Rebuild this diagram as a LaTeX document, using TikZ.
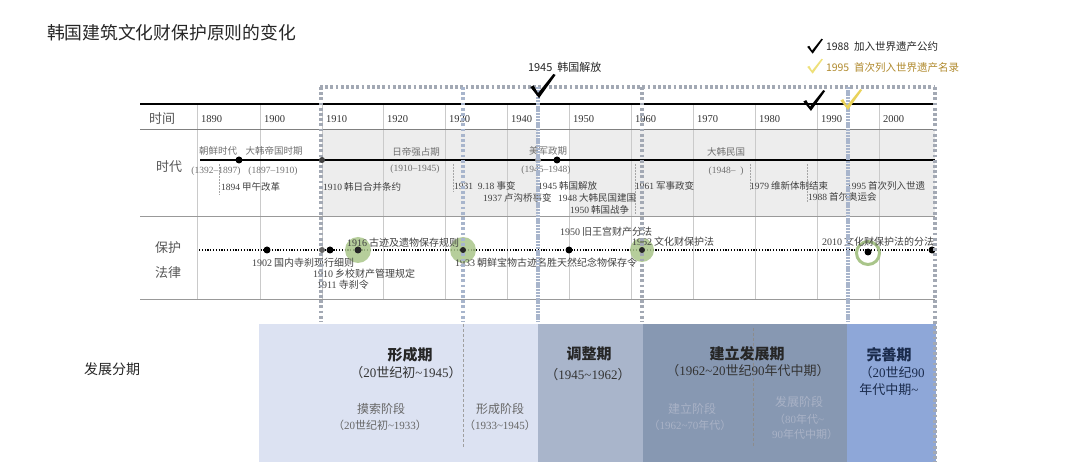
\documentclass[tikz,border=0pt]{standalone}
\usepackage{fontspec}
\setmainfont{Noto Sans CJK SC}
\newfontfamily\sr{Liberation Serif}
\newcommand\ys[1]{{\sr #1}}
\newcommand\tld{\textasciitilde}
\definecolor{cyr}{HTML}{333333}
\definecolor{crow}{HTML}{555555}
\definecolor{cera}{HTML}{707070}
\definecolor{cev}{HTML}{404040}
\definecolor{cgrid}{HTML}{CACACA}
\definecolor{cshade}{HTML}{EDEDED}
\definecolor{cgdot}{HTML}{A3A9B4}
\definecolor{cbdash}{HTML}{A8B5CC}
\definecolor{cgreen}{HTML}{A9C58A}
\definecolor{cyel}{HTML}{E9D25A}
\definecolor{cyellite}{HTML}{EEE07A}
\definecolor{cgold}{HTML}{B08A2E}
\definecolor{pA}{HTML}{DCE2F2}
\definecolor{pB}{HTML}{A9B5CB}
\definecolor{pC}{HTML}{8798B2}
\definecolor{pD}{HTML}{8EA7D8}
\definecolor{tsub}{HTML}{666666}
\definecolor{tsubC}{HTML}{A9B2C6}
\definecolor{tnavy}{HTML}{1A2B4C}
\tikzset{chk/.pic={\fill (-7,-9) -- (-4,-10.5) -- (0,-3.5) -- (14,-21) -- (16,-20) -- (1,1) -- cycle;}}
\begin{document}
\begin{tikzpicture}[x=1pt,y=-1pt,
  every node/.style={inner sep=0pt, outer sep=0pt},
  yr/.style={anchor=west, font=\sr\fontsize{10.5}{12}\selectfont, text=cyr},
  rowl/.style={font=\fontsize{13}{14}\selectfont, text=crow},
  era/.style={font=\fontsize{9.5}{11}\selectfont, text=cera},
  ev/.style={anchor=west, font=\fontsize{9.5}{11}\selectfont, text=cev},
  law/.style={anchor=west, font=\fontsize{10}{11}\selectfont, text=cev},
  dotn/.style={circle, fill=black, minimum size=7pt},
  gridl/.style={draw=cgrid, line width=0.6pt},
  tickl/.style={draw=gray!70, line width=0.5pt, densely dotted},
  gdot/.style={draw=cgdot, line width=3.2pt, dash pattern=on 2.8pt off 2.4pt},
  bdash/.style={draw=cbdash, line width=3.6pt, dash pattern=on 2.4pt off 0.8pt},
  pdash/.style={line width=1pt, dash pattern=on 3pt off 2pt},
  big/.style={font=\bfseries\fontsize{15}{16}\selectfont},
  mid/.style={font=\fontsize{13}{14}\selectfont},
  sub/.style={font=\fontsize{12}{13}\selectfont},
  subs/.style={font=\fontsize{11}{12}\selectfont}]
\useasboundingbox (0,0) rectangle (1080,462);

% title and legend
\node[anchor=west, font=\fontsize{17.8}{19}\selectfont, text=black!85] (title) at (47,33) {韩国建筑文化财保护原则的变化};
\pic[black, scale=0.68] at (812,53) {chk};
\node[anchor=west, font=\fontsize{10.5}{12}\selectfont, text=black!85] (leg1) at (826,47) {1988\ \ 加入世界遗产公约};
\pic[cyellite, scale=0.68] at (812,73) {chk};
\node[anchor=west, font=\fontsize{10.5}{12}\selectfont, text=cgold] (leg2) at (826,68) {1995\ \ 首次列入世界遗产名录};
\node[anchor=west, font=\fontsize{11}{12}\selectfont, text=black!85] (lib) at (528,67) {1945\ \ 韩国解放};

% shading of era row
\fill[cshade] (322,129) rectangle (538,216);
\fill[cshade] (569,129) rectangle (935,216);

% grid
\foreach \gx in {197,260,322,383,445,507,569,631,693,755,817,879}
  \draw[gridl] (\gx,104) -- (\gx,299);
\draw[line width=2pt] (140,104) -- (935,104);
\draw[draw=gray, line width=0.9pt] (140,129) -- (935,129);
\draw[draw=gray!80, line width=0.9pt] (140,216) -- (935,216);
\draw[draw=gray!80, line width=0.9pt] (140,299) -- (935,299);

% row labels
\node[rowl] (rT) at (162,119) {时间};
\node[rowl] (rE) at (169,167) {时代};
\node[rowl] (rL1) at (168,248) {保护};
\node[rowl] (rL2) at (168,273) {法律};

% years
\node[yr] (y1890) at (201,119) {1890};
\node[yr] (y1900) at (264,119) {1900};
\node[yr] (y1910) at (326,119) {1910};
\node[yr] (y1920) at (387,119) {1920};
\node[yr] (y1930) at (449,119) {1930};
\node[yr] (y1940) at (511,119) {1940};
\node[yr] (y1950) at (573,119) {1950};
\node[yr] (y1960) at (635,119) {1960};
\node[yr] (y1970) at (697,119) {1970};
\node[yr] (y1980) at (759,119) {1980};
\node[yr] (y1990) at (821,119) {1990};
\node[yr] (y2000) at (883,119) {2000};

% era timeline
\coordinate (tlA) at (200,160);
\coordinate (tlB) at (935,160);
\draw[line width=1.5pt] (tlA) -- (tlB);
\node[dotn] (e1897) at (239,160) {};
\node[dotn, fill=gray!80, minimum size=6pt] (e1945) at (538,160) {};
\node[dotn] (e1948) at (557,160) {};
\draw[line width=2.8pt] (e1945) -- (e1948);

% ticks
\draw[tickl] (219,164) -- (219,195);
\draw[tickl] (453,164) -- (453,192);
\draw[tickl] (635,164) -- (635,214);
\draw[tickl] (750,164) -- (750,190);
\draw[tickl] (807,164) -- (807,202);

% era labels
\node[era] (a1) at (218,151) {朝鲜时代};
\node[era] (a2) at (274,151) {大韩帝国时期};
\node[era, font=\sr\fontsize{9.5}{11}\selectfont] (a3) at (216,171) {(1392–1897)};
\node[era, font=\sr\fontsize{9.5}{11}\selectfont] (a4) at (273,171) {(1897–1910)};
\node[era] (a5) at (416,152) {日帝强占期};
\node[era, font=\sr\fontsize{9.5}{11}\selectfont] (a6) at (415,169) {(1910–1945)};
\node[era] (a7) at (548,151) {美军政期};
\node[era, font=\sr\fontsize{9.5}{11}\selectfont] (a8) at (546,170) {(1945–1948)};
\node[era] (a9) at (726,152) {大韩民国};
\node[era, font=\sr\fontsize{9.5}{11}\selectfont] (a10) at (726,171) {(1948– \ )};

% events
\node[ev] (v1894) at (221,187) {\ys{1894} 甲午改革};
\node[ev] (v1910) at (323,187) {\ys{1910} 韩日合并条约};
\node[ev] (v1931) at (454,186) {\ys{1931\ \ 9.18} 事变};
\node[ev] (v1937) at (483,198) {\ys{1937} 卢沟桥事变};
\node[ev] (v1945) at (538,186) {\ys{1945} 韩国解放};
\node[ev] (v1948) at (558,198) {\ys{1948} 大韩民国建国};
\node[ev] (v1950) at (570,210) {\ys{1950} 韩国战争};
\node[ev] (v1961) at (635,186) {\ys{1961} 军事政变};
\node[ev] (v1979) at (750,186) {\ys{1979} 维新体制结束};
\node[ev] (v1988) at (808,197) {\ys{1988} 首尔奥运会};
\node[ev] (v1995) at (847,186) {\ys{1995} 首次列入世遗};

% law timeline
\coordinate (lwA) at (199,250);
\coordinate (lwB) at (932,250);
\draw[line width=1.5pt, dash pattern=on 1.2pt off 1.6pt] (lwA) -- (lwB);
\fill[cgreen, opacity=0.85] (358,250) circle (13);
\fill[cgreen, opacity=0.85] (463,250) circle (13);
\fill[cgreen, opacity=0.85] (642,250) circle (12);
\draw[cgreen, line width=3pt] (868,253) circle (11.5);
\node[dotn] (l1902) at (267,250) {};
\node[dotn] (l1911) at (330,250) {};
\node[dotn, fill=black!85] (l1916) at (358,250) {};
\node[dotn] (l1950) at (569,250) {};
\node[dotn] (l2010) at (868,252) {};
\node[dotn] (lend) at (932,250) {};

\node[law] (w1902) at (252,263) {\ys{1902} 国内寺刹现行细则};
\node[law] (w1910) at (313,274) {\ys{1910} 乡校财产管理规定};
\node[law] (w1911) at (317,285) {\ys{1911} 寺刹令};
\node[law] (w1916) at (347,243) {\ys{1916} 古迹及遗物保存规则};
\node[law] (w1933) at (455,263) {\ys{1933} 朝鲜宝物古迹名胜天然纪念物保存令};
\node[law] (w1950) at (560,232) {\ys{1950} 旧王宫财产分法};
\node[law] (w1962) at (632,242) {\ys{1962} 文化财保护法};
\node[law] (w2010) at (822,242) {\ys{2010} 文化财保护法的分法};

% lower panel
\fill[pA] (259,324) rectangle (538,462);
\fill[pB] (538,324) rectangle (643,462);
\fill[pC] (643,324) rectangle (847,462);
\fill[pD] (847,324) rectangle (936,462);
\draw[pdash, draw=gray!75] (463,324) -- (463,447);
\draw[pdash, draw=black!45] (753,328) -- (753,447);

\node[font=\fontsize{14}{15}\selectfont, text=black!85] (phase) at (112,369) {发展分期};

\node[big, text=black!85] (p1) at (410,355) {形成期};
\node[mid, text=black!80] (p1d) at (406,373) {（\ys{20}世纪初\ys{\tld 1945}）};
\node[sub, text=tsub] (p1a) at (381,409) {摸索阶段};
\node[subs, text=tsub] (p1ad) at (380,425) {（\ys{20}世纪初\ys{\tld 1933}）};
\node[sub, text=tsub] (p1b) at (500,409) {形成阶段};
\node[subs, text=tsub] (p1bd) at (500,425) {（\ys{1933\tld 1945}）};

\node[big, text=black!85] (p2) at (589,354) {调整期};
\node[mid, text=black!80] (p2d) at (588,375) {（\ys{1945\tld 1962}）};

\node[big, text=black!85] (p3) at (747,354) {建立发展期};
\node[mid, text=black!80] (p3d) at (748,371) {（\ys{1962\tld 20}世纪\ys{90}年代中期）};
\node[sub, text=tsubC] (p3a) at (692,409) {建立阶段};
\node[subs, text=tsubC] (p3ad) at (690,425) {（\ys{1962\tld 70}年代）};
\node[sub, text=tsubC] (p3b) at (799,402) {发展阶段};
\node[subs, text=tsubC] (p3bd) at (799,419) {（\ys{80}年代\ys{\tld}};
\node[subs, text=tsubC] (p3be) at (805,434) {\ys{90}年代中期）};

\node[big, text=tnavy] (p4) at (889,355) {完善期};
\node[mid, text=tnavy] (p4d) at (892,373) {（\ys{20}世纪\ys{90}};
\node[mid, text=tnavy] (p4e) at (889,390) {年代中期\ys{\tld}};

% dotted frames
\draw[gdot] (320,87) -- (935,87);
\draw[gdot] (321,87) -- (321,322);
\draw[gdot, draw=cbdash] (463,87) -- (463,322);
\draw[gdot] (642,87) -- (642,322);
\draw[gdot] (935,87) -- (935,462);
\draw[bdash] (538,87) -- (538,322);
\draw[bdash] (848,87) -- (848,322);

% dots lying on the frames
\node[dotn, fill=black!75, minimum size=6pt] (e1910) at (322,160) {};
\node[dotn, fill=black!60, minimum size=6pt] (l1910) at (322,250) {};
\node[dotn, fill=black!85, minimum size=6pt] (l1933) at (463,250) {};
\node[dotn, fill=black!85, minimum size=6pt] (l1962) at (642,250) {};

% check marks
\pic[black, scale=1.1] at (538,97) {chk};
\pic[black, scale=0.95] at (810,110) {chk};
\pic[cyel, scale=0.95] at (847,109) {chk};
\end{tikzpicture}
\end{document}
